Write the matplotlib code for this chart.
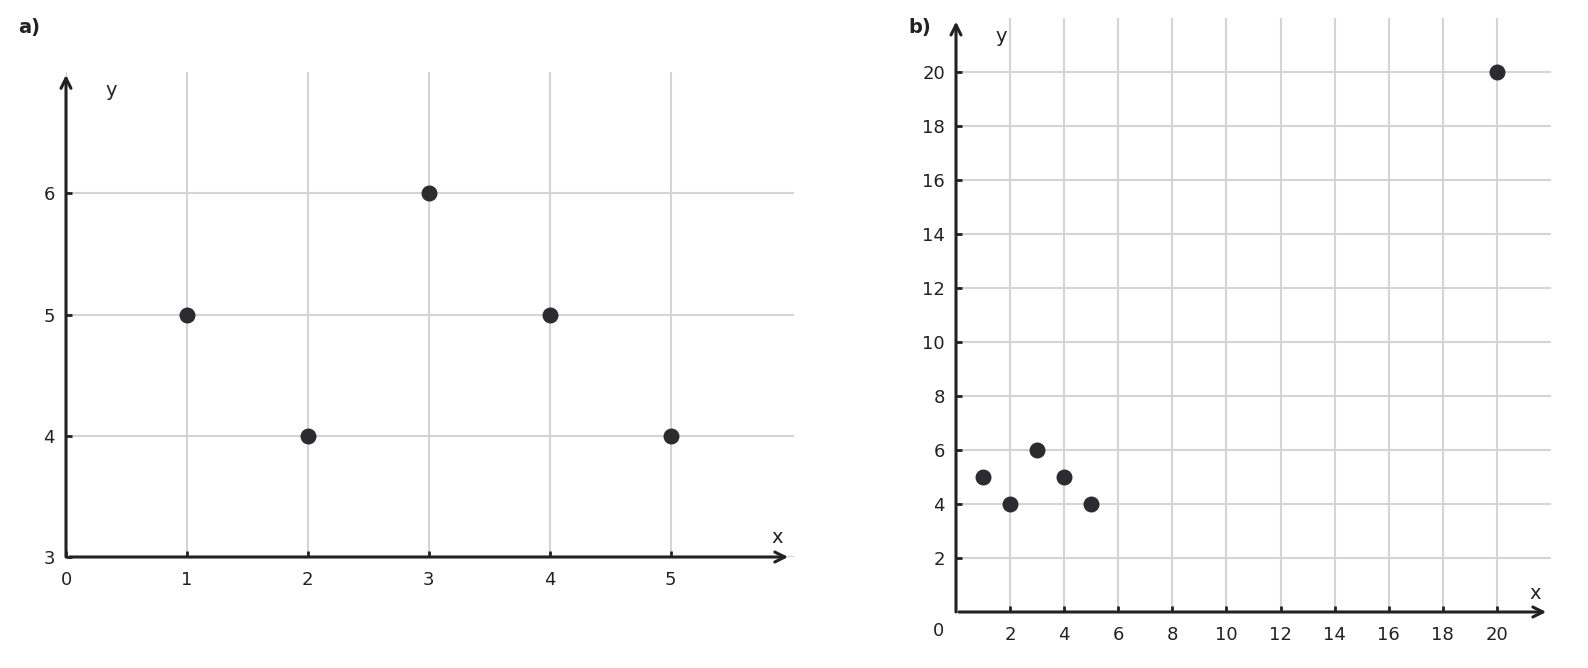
import matplotlib
matplotlib.use('Agg')
import matplotlib.pyplot as plt

#data points for both panels
x_a = [1, 2, 3, 4, 5]
y_a = [5, 4, 6, 5, 4]
x_b = [1, 2, 3, 4, 5, 20]
y_b = [5, 4, 6, 5, 4, 20]

#tick values
xticks_a = [0, 1, 2, 3, 4, 5]
yticks_a = [3, 4, 5, 6]
ticks_b = [2, 4, 6, 8, 10, 12, 14, 16, 18, 20]

dark = '#222222'
dot = '#2b2b30'
grid = '#d4d4d4'
fs = 13

fig = plt.figure(figsize=(15.88, 6.68), dpi=100)
ax_a = fig.add_axes([66/1588, 1 - 557/668, 728/1588, 485/668])
ax_b = fig.add_axes([956/1588, 1 - 612/668, 595/1588, 594/668])


def style_axes(ax, xlim, ylim, xticks, yticks):
    ax.set_xlim(xlim)
    ax.set_ylim(ylim)
    for s in ax.spines.values():
        s.set_visible(False)
    ax.set_xticks(xticks)
    ax.set_yticks(yticks)
    ax.tick_params(direction='in', length=4, width=2, color=dark,
                   labelsize=fs, labelcolor=dark)
    ax.tick_params(axis='x', pad=10)
    ax.tick_params(axis='y', pad=8)
    ax.grid(True, color=grid, linewidth=1.5, zorder=0)
    ax.set_axisbelow(True)
    #axis arrows
    arrow = dict(arrowstyle='->', color=dark, lw=2.2, mutation_scale=18,
                 shrinkA=0, shrinkB=0)
    ax.annotate('', xy=(0.992, 0), xytext=(0.005, 0), xycoords='axes fraction',
                arrowprops=arrow, annotation_clip=False)
    ax.annotate('', xy=(0, 0.994), xytext=(0, 0), xycoords='axes fraction',
                arrowprops=arrow, annotation_clip=False)


#panel a
style_axes(ax_a, (0, 6.02), (3, 7.0), xticks_a, yticks_a)
ax_a.scatter(x_a, y_a, s=110, color=dot, zorder=3, clip_on=False)
ax_a.text(0.37, 6.85, 'y', fontsize=fs + 1, color=dark, ha='center', va='center')
ax_a.text(5.88, 3.16, 'x', fontsize=fs + 1, color=dark, ha='center', va='center')
fig.text(18/1588, 1 - 27/668, 'a)', fontsize=fs + 1, fontweight='bold',
         color=dark, va='center', ha='left')

#panel b
style_axes(ax_b, (0, 22), (0, 22), ticks_b, ticks_b)
ax_b.scatter(x_b, y_b, s=110, color=dot, zorder=3, clip_on=False)
ax_b.text(1.66, 21.3, 'y', fontsize=fs + 1, color=dark, ha='center', va='center')
ax_b.text(21.4, 0.7, 'x', fontsize=fs + 1, color=dark, ha='center', va='center')
ax_b.text(-0.63, -0.7, '0', fontsize=fs, color=dark, ha='center', va='center')
fig.text(908/1588, 1 - 27/668, 'b)', fontsize=fs + 1, fontweight='bold',
         color=dark, va='center', ha='left')

fig.savefig('out.png', dpi=100)
